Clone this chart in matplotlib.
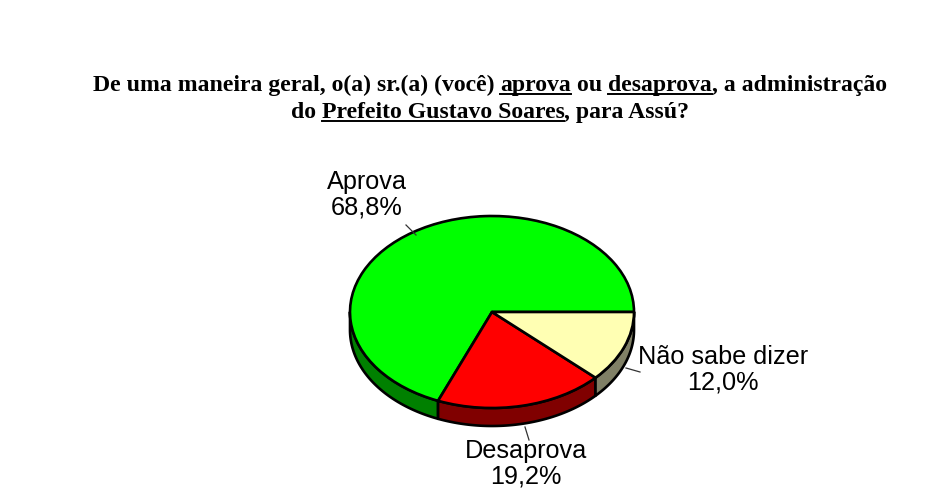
import numpy as np
import matplotlib
matplotlib.use("Agg")
import matplotlib.pyplot as plt

W, H = 949, 504
categories = ["Aprova", "Desaprova", "Não sabe dizer"]
values = [68.8, 19.2, 12.0]
value_labels = ["68,8%", "19,2%", "12,0%"]
top_colors = ["#00FF00", "#FF0000", "#FFFFB3"]
side_colors = ["#008000", "#800000", "#808066"]
title_lines = [
    [("De uma maneira geral, o(a) sr.(a) (você) ", False), ("aprova", True), (" ou ", False),
     ("desaprova", True), (", a administração", False)],
    [("do ", False), ("Prefeito Gustavo Soares", True), (", para Assú?", False)],
]

fig = plt.figure(figsize=(W / 100, H / 100), dpi=100, facecolor="white")

# Pie axes: ellipse 350..634 px wide and 216..408 px tall
cx, cy, rx, ry, depth_px = 492, 312, 142, 96, 18
ax = fig.add_axes([(cx - rx) / W, 1 - (cy + ry) / H, 2 * rx / W, 2 * ry / H])
depth = depth_px / ry
wedges, _ = ax.pie(values, colors=top_colors, startangle=0, counterclock=True, radius=1,
                   wedgeprops=dict(edgecolor="black", linewidth=1.9, zorder=5, joinstyle="round"))
ax.set_aspect("auto")
ax.set_xlim(-1, 1)
ax.set_ylim(-1, 1)
ax.axis("off")
for w in wedges:
    w.set_clip_on(False)

# Side walls of the visible (lower) half
edges = np.cumsum([0] + values) / sum(values) * 360
for a0, a1, col in zip(edges[:-1], edges[1:], side_colors):
    lo, hi = max(a0, 180), min(a1, 360)
    if hi <= lo:
        continue
    t = np.radians(np.linspace(lo, hi, 80))
    x, y = np.cos(t), np.sin(t)
    xs = np.r_[x, x[::-1]]
    ys = np.r_[y, y[::-1] - depth]
    ax.fill(xs, ys, facecolor=col, edgecolor="black", linewidth=1.9, zorder=3, clip_on=False,
            joinstyle="round")

def leader(p0, p1):
    fig.add_artist(plt.Line2D([p0[0] / W, p1[0] / W], [1 - p0[1] / H, 1 - p1[1] / H],
                              color="#333333", lw=0.9))

label_pos = [(367, 195, "center"), (526, 464, "center"), (723, 370, "center")]
for (px, py, ha), c, v in zip(label_pos, categories, value_labels):
    fig.text(px / W, 1 - py / H, f"{c}\n{v}", ha=ha, va="center", family="Liberation Sans",
             fontsize=18.2, linespacing=1.06, color="black", zorder=10)
leader((406, 225), (416, 235))
leader((525, 427), (529, 440))
leader((626, 368), (640, 372))

# Title, set piece by piece so parts can be underlined
fig.canvas.draw()
rend = fig.canvas.get_renderer()
title_kw = dict(family="Liberation Serif", fontweight="bold", fontsize=17.1, color="black",
                va="baseline", ha="left")
baselines = [91, 118]

def width(s):
    p = fig.text(0, 0, s + "|", **title_kw)
    q = fig.text(0, 0, "|", **title_kw)
    w = p.get_window_extent(rend).width - q.get_window_extent(rend).width
    p.remove(); q.remove()
    return w

for line, base in zip(title_lines, baselines):
    total = width("".join(s for s, _ in line))
    x = 490 - total / 2
    consumed = ""
    for seg, ul in line:
        w_start = width(consumed)
        w_end = width(consumed + seg)
        fig.text((x + w_start) / W, 1 - base / H, seg, **title_kw)
        if ul:
            fig.add_artist(plt.Line2D([(x + w_start) / W, (x + w_end) / W],
                                      [1 - (base + 3) / H] * 2, color="black", lw=1.4))
        consumed += seg

fig.savefig("out.png", dpi=100, facecolor="white")
